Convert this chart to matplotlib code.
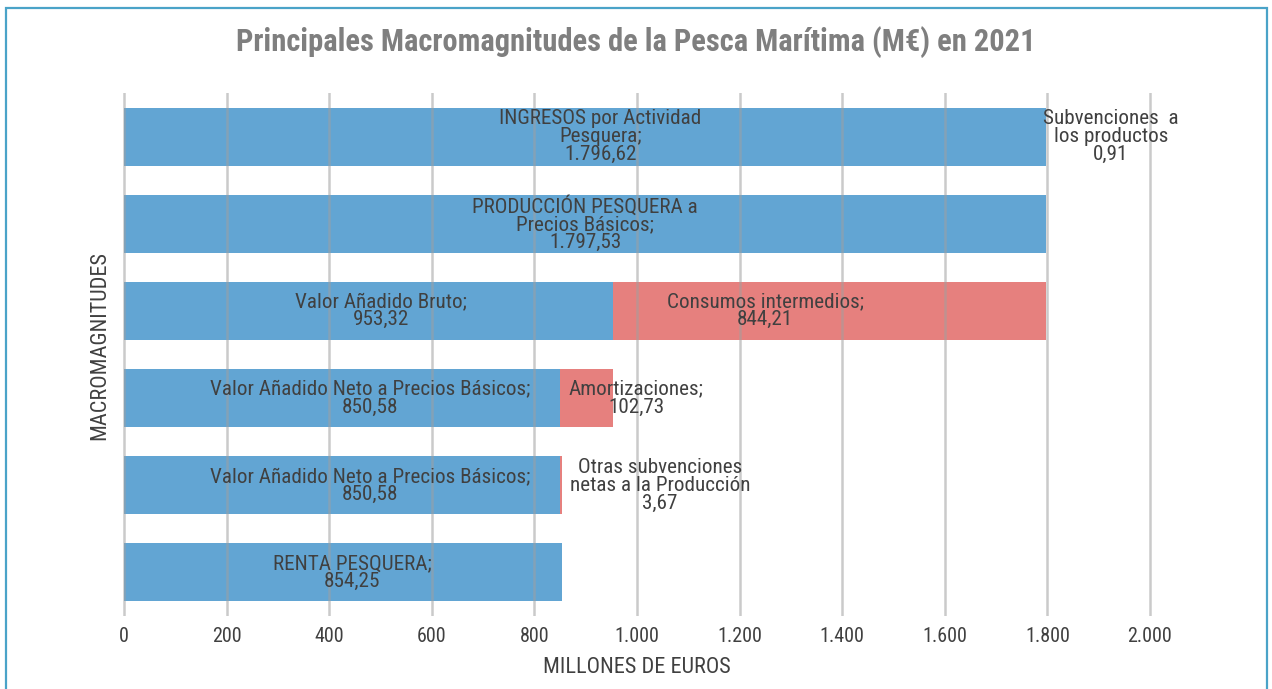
import matplotlib
matplotlib.use("Agg")
import matplotlib.pyplot as plt
from matplotlib import font_manager as fm
from matplotlib.patches import Rectangle

# ---------------- data ----------------
categories = ["INGRESOS", "PRODUCCION", "VAB", "VAN1", "VAN2", "RENTA"]
blue_values = [1796.62, 1797.53, 953.32, 850.58, 850.58, 854.25]
red_values = [0.91, 0.0, 844.21, 102.73, 3.67, 0.0]
blue_labels = [
    "INGRESOS por Actividad\nPesquera;\n1.796,62",
    "PRODUCCIÓN PESQUERA a\nPrecios Básicos;\n1.797,53",
    "Valor Añadido Bruto;\n953,32",
    "Valor Añadido Neto a Precios Básicos;\n850,58",
    "Valor Añadido Neto a Precios Básicos;\n850,58",
    "RENTA PESQUERA;\n854,25",
]
red_labels = [
    "Subvenciones  a\nlos productos\n0,91",
    None,
    "Consumos intermedios;\n844,21",
    "Amortizaciones;\n102,73",
    "Otras subvenciones\nnetas a la Producción\n3,67",
    None,
]
xticks = [0, 200, 400, 600, 800, 1000, 1200, 1400, 1600, 1800, 2000]
xtick_labels = ["0", "200", "400", "600", "800", "1.000", "1.200", "1.400",
                "1.600", "1.800", "2.000"]
title = "Principales Macromagnitudes de la Pesca Marítima (M€) en 2021"
xlabel = "MILLONES DE EUROS"
ylabel = "MACROMAGNITUDES"

# ---------------- font ----------------
names = {f.name for f in fm.fontManager.ttflist}
family = "DejaVu Sans"
for cand in ["Roboto Condensed", "Liberation Sans Narrow", "DejaVu Sans Condensed"]:
    if cand in names:
        family = cand
        break
plt.rcParams["font.family"] = [family, "DejaVu Sans"]

BLUE = "#62a5d3"
RED = "#e6807e"
TXT = "#404040"
W, H = 1272, 689

fig = plt.figure(figsize=(W / 100, H / 100), dpi=100)
fig.patches.append(Rectangle((6 / W, -0.01), (1267 - 6) / W, 1 - 8 / H + 0.01,
                             transform=fig.transFigure, fill=False,
                             edgecolor="#4aa3c8", linewidth=1.6))

ax = fig.add_axes([125 / W - 0.004, 1 - 616 / H, (1149 - 125) / W + 0.008, (616 - 93) / H])
y = list(range(len(categories)))
ax.barh(y, blue_values, height=0.667, color=BLUE, zorder=2)
ax.barh(y, red_values, left=blue_values, height=0.667, color=RED, zorder=2)

ax.set_xlim(-8, 2008)
ax.set_ylim(5.5, -0.5)
ax.set_xticks(xticks)
ax.set_xticklabels(xtick_labels)
ax.set_yticks([])
ax.grid(axis="x", color="#a0a0a0", linewidth=1.8, alpha=0.55, zorder=3)
ax.set_axisbelow(False)
for s in ax.spines.values():
    s.set_visible(False)
ax.tick_params(axis="x", length=0, labelsize=14.5, colors=TXT, pad=8)
ax.set_xlabel(xlabel, fontsize=16, color=TXT, labelpad=8)
ax.set_ylabel(ylabel, fontsize=16, color=TXT)
ax.yaxis.label.set_va("center")
ax.yaxis.set_label_coords(-0.0192, 0.518)

LBL = dict(ha="center", va="center", fontsize=15.2, color=TXT, linespacing=0.92,
           zorder=4)
# label x offsets (data units) relative to segment centres
blue_dx = [30, 0, 25, 54, 54, 18]
for i, (v, lab) in enumerate(zip(blue_values, blue_labels)):
    ax.text(v / 2 + blue_dx[i], i, lab, **LBL)
red_x = [1924, None, 1250, 998, 1045, None]
for i, lab in enumerate(red_labels):
    if lab is None:
        continue
    ax.text(red_x[i], i, lab, **LBL)

fig.text(0.5, 1 - 42 / H, title, ha="center", va="center", fontsize=22,
         fontweight="bold", color="#7f7f7f")

fig.savefig("out.png", dpi=100)
